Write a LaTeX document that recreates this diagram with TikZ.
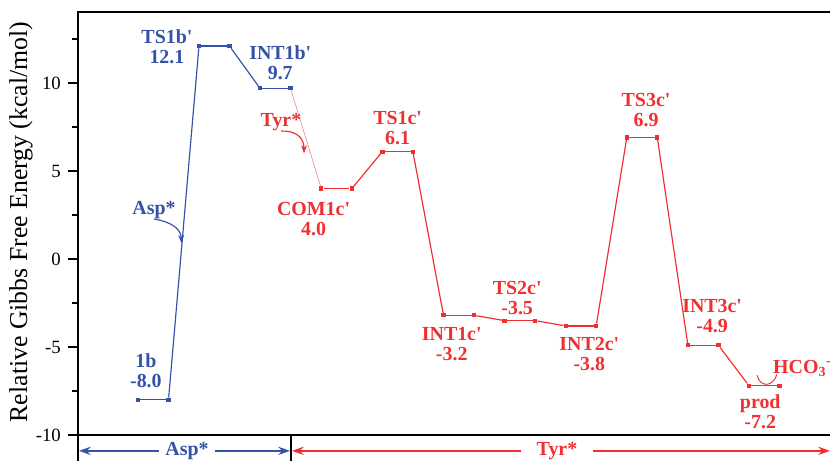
\documentclass[tikz,border=0pt]{standalone}
\usepackage{fontspec}
\setmainfont{Liberation Serif}
\usetikzlibrary{arrows.meta,positioning}
\definecolor{aspkol}{RGB}{52,82,168}
\definecolor{tyrkol}{RGB}{240,48,48}
\definecolor{tyrjasny}{RGB}{244,130,130}
\newcommand{\kres}{\textquotesingle}
\tikzset{
    %Define standard arrow tip
    >={Stealth[length=10pt,width=7pt]},
    %Define style for level markers
    znak/.style={
           rectangle, fill,
           inner sep=0pt,
           minimum size=3.6pt},
    % Define style for levels and steps
    poziom/.style={
           line width=1.1pt},
    przejscie/.style={
           line width=1pt},
    % Define style for energy labels
    opis/.style={
           font=\fontsize{17}{17}\selectfont\bfseries,
           align=center,
           inner sep=0pt},
    % Define arrow styles
    pil/.style={
           ->,
           line width=1.2pt},
    zakret/.style={
           -{Stealth[length=7pt,width=5pt]},
           line width=1pt}
}

\begin{document}
\begin{tikzpicture}[x=0.03cm, y=0.528cm, node distance=0mm]
\useasboundingbox (0,-11.477) rectangle (830,14.716);
% frame and axis
\draw[line width=1.5pt] (830,14.03) -- (78,14.03) -- (78,-11.477);
\draw[line width=1.5pt] (78,-10) -- (830,-10);
\draw[line width=1.5pt] (291,-10) -- (291,-11.477);
\foreach \e in {-10,-5,0,5,10}{
  \draw[line width=1.2pt] (78,\e) -- (68,\e);
  \node[anchor=east, font=\fontsize{16}{18}\selectfont] (os\e) at (65,\e) {\e};
}
\foreach \e in {-7.5,-2.5,2.5,7.5,12.5}
  \draw[line width=1.2pt] (78,\e) -- (72,\e);
\node[rotate=90, font=\fontsize{22}{26}\selectfont] (tytul) at (21,2.1)
  {Relative Gibbs Free Energy (kcal/mol)};

% levels
\foreach \n/\x/\e in {1b/138/-8.0, ts1b/199/12.1, int1b/260/9.7}{
  \node[znak, aspkol] (\n-l) at (\x,\e) {};
  \node[znak, aspkol] (\n-r) at (\x+30.5,\e) {};
  \coordinate (\n) at (\x+15.25,\e);
  \draw[poziom, aspkol] (\n-l) -- (\n-r);
}
\foreach \n/\x/\e in {com1c/321.3/4.0, ts1c/382.4/6.1, int1c/443.5/-3.2,
    ts2c/504.6/-3.5, int2c/565.7/-3.8, ts3c/626.8/6.9, int3c/687.9/-4.9,
    prod/749/-7.2}{
  \node[znak, tyrkol] (\n-l) at (\x,\e) {};
  \node[znak, tyrkol] (\n-r) at (\x+30.5,\e) {};
  \coordinate (\n) at (\x+15.25,\e);
  \draw[poziom, tyrkol] (\n-l) -- (\n-r);
}

% steps
\draw[przejscie, aspkol] (1b-r) -- (ts1b-l);
\draw[przejscie, aspkol] (ts1b-r) -- (int1b-l);
\draw[line width=0.5pt, tyrjasny] (int1b-r) -- (com1c-l);
\draw[przejscie, tyrkol] (com1c-r) -- (ts1c-l);
\draw[przejscie, tyrkol] (ts1c-r) -- (int1c-l);
\draw[przejscie, tyrkol] (int1c-r) -- (ts2c-l);
\draw[przejscie, tyrkol] (ts2c-r) -- (int2c-l);
\draw[przejscie, tyrkol] (int2c-r) -- (ts3c-l);
\draw[przejscie, tyrkol] (ts3c-r) -- (int3c-l);
\draw[przejscie, tyrkol] (int3c-r) -- (prod-l);

% labels
\node[opis, aspkol, above=0.36cm of 1b, xshift=-0.22cm] (1b-opis) {1b\\-8.0};
\node[opis, aspkol, left=0.12cm of ts1b-l, yshift=-0.03cm] (ts1b-opis) {TS1b\kres\\12.1};
\node[opis, aspkol, above=0.24cm of int1b, xshift=0.15cm] (int1b-opis) {INT1b\kres\\9.7};
\node[opis, tyrkol, below=0.41cm of com1c, xshift=-0.69cm] (com1c-opis) {COM1c\kres\\4.0};
\node[opis, tyrkol, above=0.21cm of ts1c] (ts1c-opis) {TS1c\kres\\6.1};
\node[opis, tyrkol, below=0.36cm of int1c, xshift=-0.21cm] (int1c-opis) {INT1c\kres\\-3.2};
\node[opis, tyrkol, above=0.18cm of ts2c, xshift=-0.08cm] (ts2c-opis) {TS2c\kres\\-3.5};
\node[opis, tyrkol, below=0.34cm of int2c, xshift=0.25cm] (int2c-opis) {INT2c\kres\\-3.8};
\node[opis, tyrkol, above=0.33cm of ts3c, xshift=0.12cm] (ts3c-opis) {TS3c\kres\\6.9};
\node[opis, tyrkol, above=0.36cm of int3c, xshift=0.27cm] (int3c-opis) {INT3c\kres\\-4.9};
\node[opis, tyrkol, below=0.25cm of prod, xshift=-0.12cm] (prod-opis) {prod\\-7.2};

% curved arrows
\node[opis, aspkol] (asp-opis) at (154,2.78) {Asp*};
\coordinate (asp-grot) at (181.5,0.9);
\draw[zakret, aspkol] (asp-opis.south) .. controls (172,2.1) and (181,1.7) .. (asp-grot);
\node[opis, tyrkol] (tyr-opis) at (281,7.78) {Tyr*};
\coordinate (tyr-grot) at (304,6.0);
\draw[zakret, tyrkol] (tyr-opis.south) .. controls (296,7.3) and (304,6.9) .. (tyr-grot);
\node[opis, tyrkol, anchor=base west] (hco3) at (773,-6.48) {HCO\textsubscript{3}\textsuperscript{-}};
\coordinate (luk-a) at (757,-6.6);
\coordinate (luk-b) at (777,-6.55);
\draw[tyrkol, line width=0.8pt] (luk-a) .. controls (760,-7.3) and (773,-7.3) .. (luk-b);

% bottom arrows
\node[opis, aspkol, inner xsep=5pt] (asp-os) at (187,-10.9) {Asp*};
\coordinate (asp-lewo) at (79,-10.9);
\coordinate (asp-prawo) at (290,-10.9);
\draw[pil, aspkol] (asp-os) -- (asp-lewo);
\draw[pil, aspkol] (asp-os) -- (asp-prawo);
\node[opis, tyrkol, inner xsep=0.45cm] (tyr-os) at (557,-10.9) {Tyr*};
\coordinate (tyr-lewo) at (292,-10.9);
\coordinate (tyr-prawo) at (830,-10.9);
\draw[pil, tyrkol] (tyr-os) -- (tyr-lewo);
\draw[pil, tyrkol] (tyr-os) -- (tyr-prawo);
\end{tikzpicture}
\end{document}
